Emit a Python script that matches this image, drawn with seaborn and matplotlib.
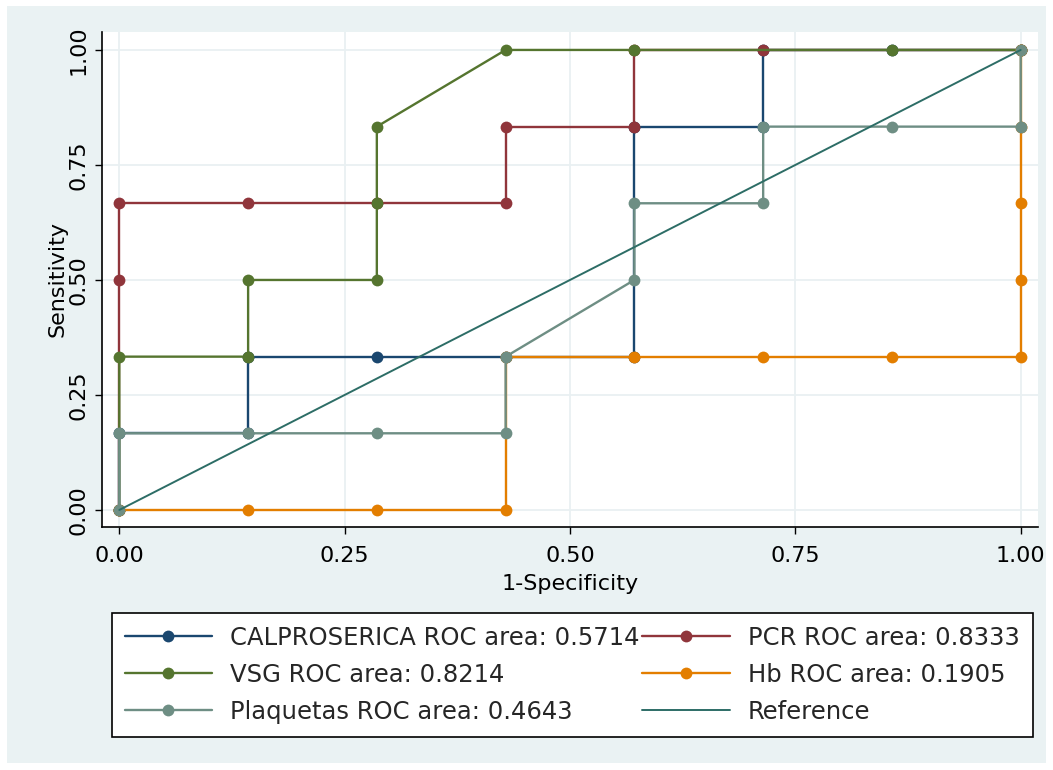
import matplotlib
matplotlib.use("Agg")
import matplotlib.pyplot as plt
import seaborn as sns
from matplotlib.patches import Rectangle

# ROC points (1-specificity, sensitivity)
calpro_x = [0.0, 0.0, 0.1429, 0.1429, 0.2857, 0.4286, 0.5714, 0.5714, 0.7143, 0.7143, 0.8571, 1.0]
calpro_y = [0.0, 0.1667, 0.1667, 0.3333, 0.3333, 0.3333, 0.3333, 0.8333, 0.8333, 1.0, 1.0, 1.0]

pcr_x = [0.0, 0.0, 0.0, 0.1429, 0.2857, 0.4286, 0.4286, 0.5714, 0.5714, 0.7143, 1.0]
pcr_y = [0.0, 0.5, 0.6667, 0.6667, 0.6667, 0.6667, 0.8333, 0.8333, 1.0, 1.0, 1.0]

vsg_x = [0.0, 0.0, 0.1429, 0.1429, 0.2857, 0.2857, 0.2857, 0.4286, 0.5714, 0.8571, 1.0]
vsg_y = [0.0, 0.3333, 0.3333, 0.5, 0.5, 0.6667, 0.8333, 1.0, 1.0, 1.0, 1.0]

hb_x = [0.0, 0.1429, 0.2857, 0.4286, 0.4286, 0.5714, 0.7143, 0.8571, 1.0, 1.0, 1.0, 1.0, 1.0]
hb_y = [0.0, 0.0, 0.0, 0.0, 0.3333, 0.3333, 0.3333, 0.3333, 0.3333, 0.5, 0.6667, 0.8333, 1.0]

plaq_x = [0.0, 0.0, 0.1429, 0.2857, 0.4286, 0.4286, 0.5714, 0.5714, 0.7143, 0.7143, 0.8571, 1.0, 1.0]
plaq_y = [0.0, 0.1667, 0.1667, 0.1667, 0.1667, 0.3333, 0.5, 0.6667, 0.6667, 0.8333, 0.8333, 0.8333, 1.0]

ref_x = [0.0, 1.0]
ref_y = [0.0, 1.0]

labels = ["CALPROSERICA ROC area: 0.5714", "PCR ROC area: 0.8333", "VSG ROC area: 0.8214",
          "Hb ROC area: 0.1905", "Plaquetas ROC area: 0.4643", "Reference"]
ticks = [0.0, 0.25, 0.5, 0.75, 1.0]
tick_labels = ["0.00", "0.25", "0.50", "0.75", "1.00"]

colors = ["#1a476f", "#90353b", "#55752f", "#e37e00", "#6e8e84"]
ref_color = "#2d6d66"
bg = "#eaf2f3"

sns.set_style("white")
plt.rcParams["font.family"] = ["DejaVu Sans"]

fig = plt.figure(figsize=(10.53, 7.70), dpi=100)
fig.patch.set_facecolor("white")
fig.patches.append(Rectangle((7 / 1053, 7 / 770), 1039 / 1053, 757 / 770,
                             transform=fig.transFigure, facecolor=bg, edgecolor="none", zorder=-10))

ax = fig.add_axes([102 / 1053, 1 - 527 / 770, 936 / 1053, 495 / 770])
ax.set_facecolor("white")

curves = [(calpro_x, calpro_y), (pcr_x, pcr_y), (vsg_x, vsg_y), (hb_x, hb_y), (plaq_x, plaq_y)]
for (xs, ys), col, lab in zip(curves, colors, labels[:5]):
    sns.lineplot(x=xs, y=ys, ax=ax, color=col, sort=False, estimator=None, label=lab,
                 linewidth=1.7, marker="o", markersize=8.5, markeredgewidth=0, zorder=3)
sns.lineplot(x=ref_x, y=ref_y, ax=ax, color=ref_color, sort=False, estimator=None,
             label=labels[5], linewidth=1.4, zorder=4)

ax.set_xlim(-0.0192, 1.0192)
ax.set_ylim(-0.037, 1.039)
ax.set_xticks(ticks)
ax.set_xticklabels(tick_labels)
ax.set_yticks(ticks)
ax.set_yticklabels(tick_labels, rotation=90, va="center")
ax.grid(True, color="#e9f0f2", linewidth=1.3)
ax.set_axisbelow(True)

for side in ["top", "right"]:
    ax.spines[side].set_visible(False)
for side in ["left", "bottom"]:
    ax.spines[side].set_color("black")
    ax.spines[side].set_linewidth(1.2)
ax.tick_params(axis="both", direction="out", length=5, width=1, color="black",
               labelsize=16, labelcolor="black", bottom=True, left=True)
ax.tick_params(axis="x", pad=9)
ax.tick_params(axis="y", pad=5)

ax.set_xlabel("1-Specificity", fontsize=16, color="black")
ax.set_ylabel("Sensitivity", fontsize=16, color="black")
ax.xaxis.set_label_coords(0.5, -0.095)
ax.yaxis.set_label_coords(-0.037, 0.5)

handles, labs = ax.get_legend_handles_labels()
ax.get_legend().remove()
order = [0, 2, 4, 1, 3, 5]
leg = fig.legend([handles[i] for i in order], [labs[i] for i in order], ncol=2,
                 loc="upper left", bbox_to_anchor=(112 / 1053, 1 - 613 / 770),
                 fontsize=17.5, frameon=True, fancybox=False, framealpha=1,
                 edgecolor="black", handlelength=3.6, handletextpad=0.75,
                 columnspacing=0.1, borderpad=0.52, labelspacing=0.54, borderaxespad=0)
leg.get_frame().set_linewidth(1.2)

plt.savefig("out.png", dpi=100)
